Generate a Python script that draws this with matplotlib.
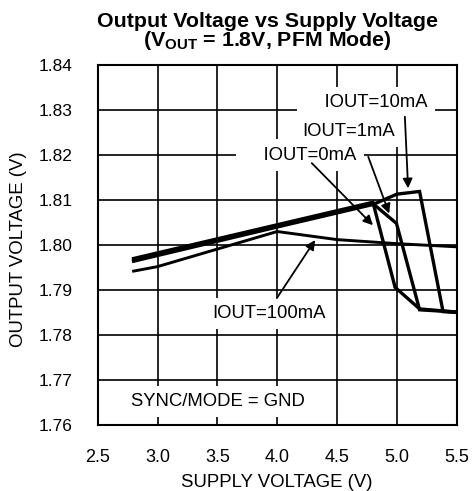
import numpy as np
import matplotlib.pyplot as plt

plt.rcParams['font.family'] = ['Liberation Sans', 'DejaVu Sans']
plt.rcParams['mathtext.fontset'] = 'custom'
plt.rcParams['mathtext.rm'] = 'Liberation Sans'
plt.rcParams['mathtext.bf'] = 'Liberation Sans:bold'

# curves
vin_0ma = [2.8, 4.0, 4.8, 4.985, 5.19, 5.5]
vout_0ma = [1.7970, 1.8045, 1.8095, 1.7906, 1.7858, 1.7851]

vin_1ma = [2.8, 4.0, 4.8, 4.997, 5.19, 5.5]
vout_1ma = [1.7967, 1.8042, 1.8092, 1.8048, 1.7856, 1.7851]

vin_10ma = [2.8, 4.0, 4.8, 5.0, 5.19, 5.386, 5.5]
vout_10ma = [1.7964, 1.8040, 1.8090, 1.8113, 1.8119, 1.7852, 1.7850]

vin_100ma = [2.8, 3.0, 4.0, 4.5, 5.0, 5.5]
vout_100ma = [1.7942, 1.7952, 1.8030, 1.8012, 1.8003, 1.7996]

xticks = [2.5, 3.0, 3.5, 4.0, 4.5, 5.0, 5.5]
yticks = [1.76, 1.77, 1.78, 1.79, 1.80, 1.81, 1.82, 1.83, 1.84]

fig = plt.figure(figsize=(4.73, 4.91), dpi=100)
ax = fig.add_axes([0.2066, 0.1344, 0.7589, 0.7332])

for vx, vy in [(vin_0ma, vout_0ma), (vin_1ma, vout_1ma), (vin_10ma, vout_10ma)]:
    ax.plot(vx, vy, color='black', linewidth=2.4, solid_joinstyle='miter', zorder=3)
ax.plot(vin_100ma, vout_100ma, color='black', linewidth=2.1, zorder=3)

ax.set_xlim(2.5, 5.5)
ax.set_ylim(1.76, 1.84)
ax.set_xticks(xticks)
ax.set_yticks(yticks)
ax.set_xticklabels(['%.1f' % v for v in xticks])
ax.set_yticklabels(['%.2f' % v for v in yticks])
ax.tick_params(axis='both', length=0)
ax.tick_params(axis='y', pad=18, labelsize=12.5)
ax.tick_params(axis='x', pad=17, labelsize=13)
ax.grid(True, color='black', linewidth=1.2)
ax.set_axisbelow(True)
for s in ax.spines.values():
    s.set_linewidth(1.5)

ax.set_xlabel('SUPPLY VOLTAGE (V)', fontsize=13.4)
ax.set_ylabel('OUTPUT VOLTAGE (V)', fontsize=13.4)
ax.xaxis.set_label_coords(0.5, -0.135)
ax.yaxis.set_label_coords(-0.196, 0.489)

fs = 13.3
box = dict(facecolor='white', edgecolor='none', pad=5)
arrow = dict(arrowstyle='-|>', color='black', lw=1.3, mutation_scale=14,
             shrinkA=0, shrinkB=0)

ax.text(5.258, 1.8316, '    IOUT=10mA', fontsize=fs, ha='right', va='center', bbox=box, zorder=2)
ax.annotate('', xy=(5.094, 1.8126), xytext=(5.067, 1.8285), arrowprops=arrow, zorder=4)

ax.text(4.985, 1.8252, 'IOUT=1mA', fontsize=fs, ha='right', va='center', bbox=box, zorder=2)
ax.annotate('', xy=(4.936, 1.8070), xytext=(4.761, 1.8196), arrowprops=arrow, zorder=4)

ax.text(4.664, 1.8200, '    IOUT=0mA', fontsize=fs, ha='right', va='center', bbox=box, zorder=2)
ax.annotate('', xy=(4.80, 1.8044), xytext=(4.289, 1.8182), arrowprops=arrow, zorder=4)

ax.text(3.933, 1.7848, 'IOUT=100mA', fontsize=fs, ha='center', va='center', bbox=box, zorder=2)
ax.annotate('', xy=(4.317, 1.8011), xytext=(3.997, 1.7882), arrowprops=arrow, zorder=4)

ax.text(2.775, 1.7652, 'SYNC/MODE = GND', fontsize=fs, ha='left', va='center', bbox=box, zorder=2)

fig.text(0.565, 0.957, 'Output Voltage vs Supply Voltage', fontsize=15.4,
         fontweight='bold', ha='center', va='center')
fig.text(0.565, 0.917, r'(V$_{\mathbf{OUT}}$ = 1.8V, PFM Mode)', fontsize=15.4,
         fontweight='bold', ha='center', va='center')

fig.savefig('out.png', dpi=100)
